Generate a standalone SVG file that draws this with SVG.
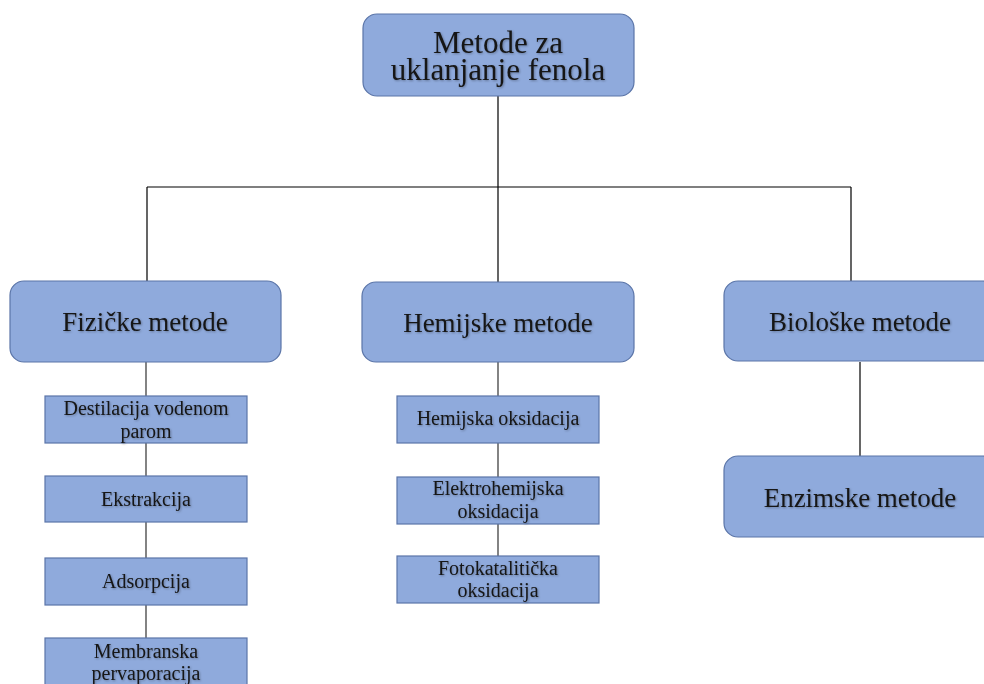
<svg xmlns="http://www.w3.org/2000/svg" width="984" height="684" viewBox="0 0 984 684">
<style>
.big{fill:#8faadc;stroke:#5b75a8;stroke-width:1.2}
.small{fill:#8faadc;stroke:#5b75a8;stroke-width:1.2}
.t{font-family:"Liberation Serif","DejaVu Serif",serif;fill:#151515;text-anchor:middle;filter:url(#sh)}
.tb{font-size:27px}
.ts{font-size:20px}
.c{stroke:#000;stroke-width:1.2;fill:none}
.c2{stroke:#333;stroke-width:1.2;fill:none}
</style>
<defs>
<filter id="sh" x="-5%" y="-20%" width="110%" height="140%">
<feDropShadow dx="1" dy="1" stdDeviation="0.9" flood-color="#000" flood-opacity="0.3"/>
</filter>
</defs>
<rect width="984" height="684" fill="#fff"/>
<g id="connectors">
<path class="c" d="M498 96V187M147 187H851M147 187V282M498 187V282M851 187V282"/>
<path class="c" d="M860 362V456"/>
<path class="c2" d="M146 362V396M146 443V476M146 522V558M146 605V638"/>
<path class="c2" d="M498 362V396M498 443V477M498 524V556"/>
</g>
<g id="root">
<rect class="big" x="363" y="14" width="271" height="82" rx="14"/>
<text class="t" x="498" y="53" font-size="31">Metode za</text>
<text class="t" x="498" y="80" font-size="31">uklanjanje fenola</text>
</g>
<g id="fizicke">
<rect class="big" x="10" y="281" width="271" height="81" rx="14"/>
<text class="t tb" x="145" y="331">Fizičke metode</text>
</g>
<g id="hemijske">
<rect class="big" x="362" y="282" width="272" height="80" rx="14"/>
<text class="t tb" x="498" y="332">Hemijske metode</text>
</g>
<g id="bioloske">
<rect class="big" x="724" y="281" width="272" height="80" rx="14"/>
<text class="t tb" x="860" y="331">Biološke metode</text>
</g>
<g id="enzimske">
<rect class="big" x="724" y="456" width="272" height="81" rx="14"/>
<text class="t tb" x="860" y="507">Enzimske metode</text>
</g>
<g id="destilacija">
<rect class="small" x="45" y="396" width="202" height="47"/>
<text class="t ts" x="146" y="415">Destilacija vodenom</text>
<text class="t ts" x="146" y="438">parom</text>
</g>
<g id="ekstrakcija">
<rect class="small" x="45" y="476" width="202" height="46"/>
<text class="t ts" x="146" y="506">Ekstrakcija</text>
</g>
<g id="adsorpcija">
<rect class="small" x="45" y="558" width="202" height="47"/>
<text class="t ts" x="146" y="588">Adsorpcija</text>
</g>
<g id="membranska">
<rect class="small" x="45" y="638" width="202" height="60"/>
<text class="t ts" x="146" y="658">Membranska</text>
<text class="t ts" x="146" y="680">pervaporacija</text>
</g>
<g id="hemijska-oksidacija">
<rect class="small" x="397" y="396" width="202" height="47"/>
<text class="t ts" x="498" y="425">Hemijska oksidacija</text>
</g>
<g id="elektrohemijska">
<rect class="small" x="397" y="477" width="202" height="47"/>
<text class="t ts" x="498" y="495">Elektrohemijska</text>
<text class="t ts" x="498" y="518">oksidacija</text>
</g>
<g id="fotokataliticka">
<rect class="small" x="397" y="556" width="202" height="47"/>
<text class="t ts" x="498" y="575">Fotokatalitička</text>
<text class="t ts" x="498" y="597">oksidacija</text>
</g>
</svg>
